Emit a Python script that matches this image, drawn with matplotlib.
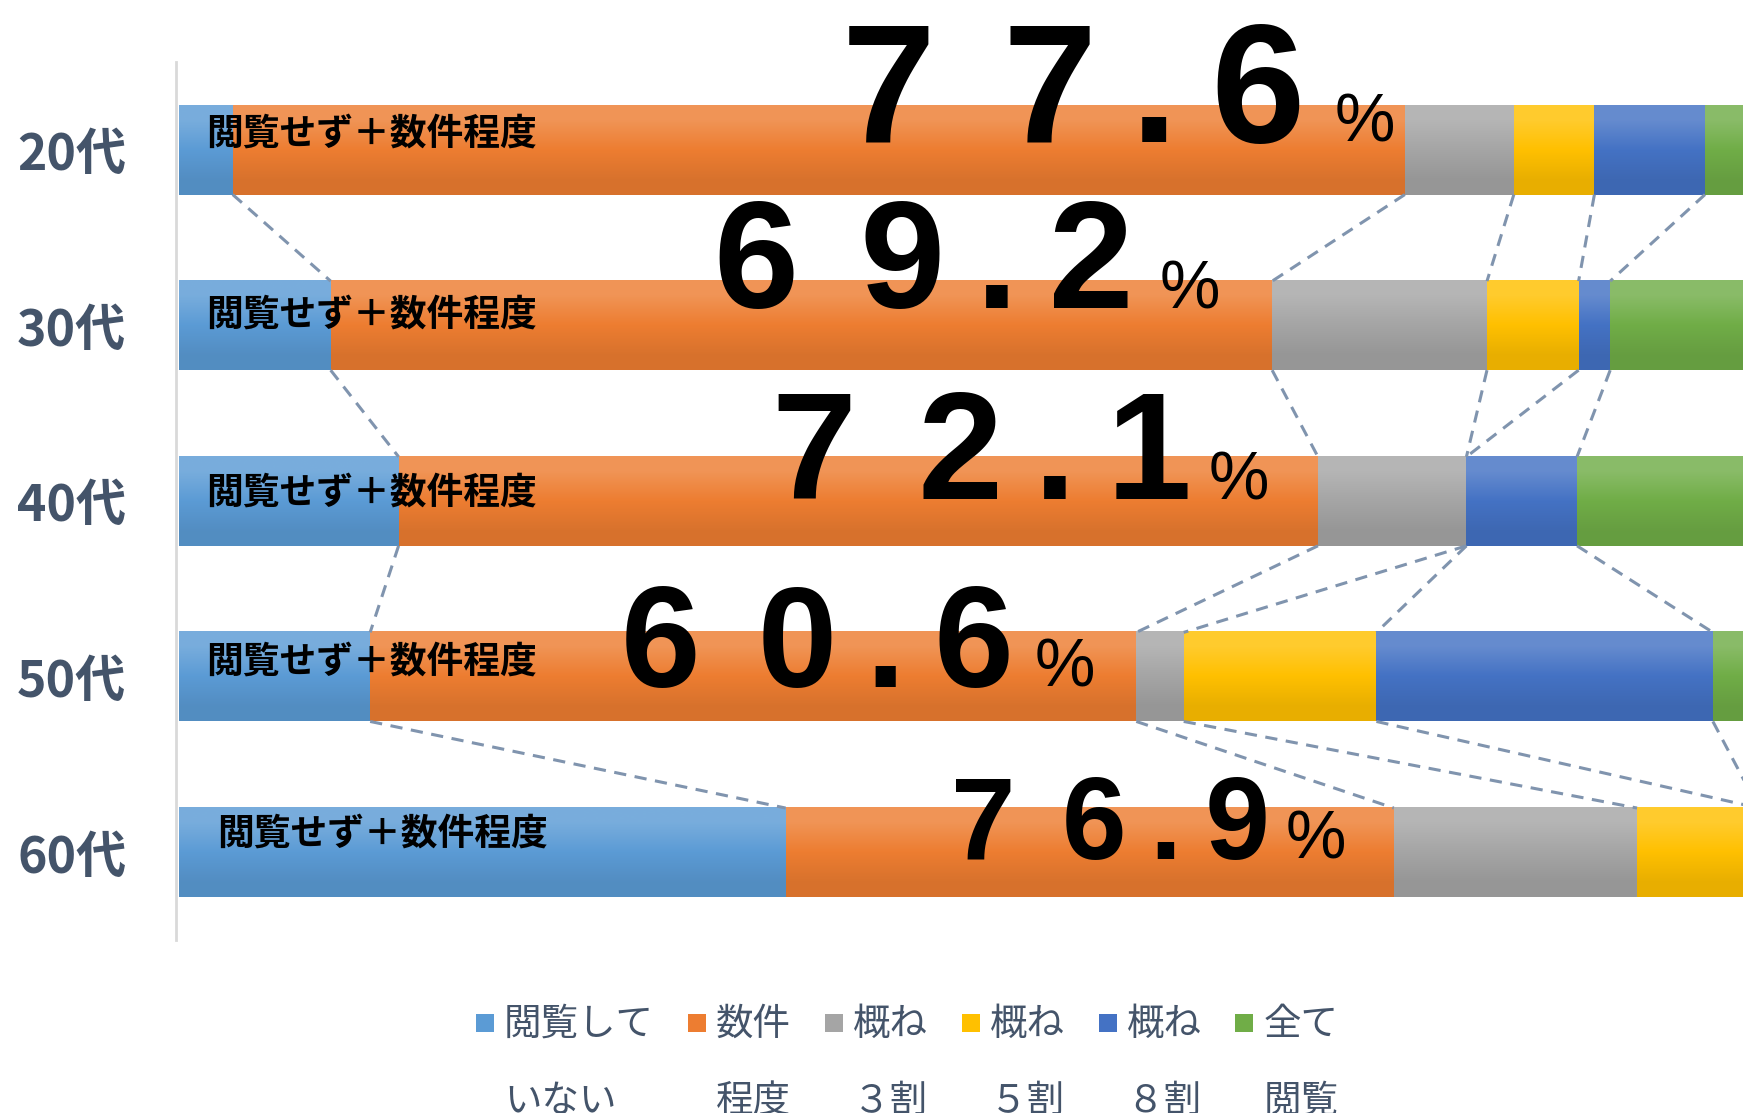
import matplotlib
matplotlib.use('Agg')
import matplotlib.pyplot as plt
import numpy as np
from matplotlib.colors import to_rgb
from matplotlib.patches import Rectangle
from matplotlib.legend_handler import HandlerPatch

plt.rcParams['font.family'] = ['Noto Sans CJK JP', 'DejaVu Sans']

# data (percent of each age group)
ages = ['20代', '30代', '40代', '50代', '60代']
series_labels = ['閲覧して\nいない', '数件\n程度', '概ね\n３割', '概ね\n５割', '概ね\n８割', '全て\n閲覧']
not_read = [3.4, 9.6, 13.9, 12.1, 38.4]
few_items = [74.2, 59.6, 58.2, 48.5, 38.5]
about_30 = [6.9, 13.6, 9.4, 3.0, 15.4]
about_50 = [5.1, 5.8, 0.0, 12.2, 7.7]
about_80 = [7.0, 2.0, 7.0, 21.3, 0.0]
all_read = [3.4, 9.4, 11.5, 2.9, 0.0]
inner_label = '閲覧せず＋数件程度'

colors = ['#5B9BD5', '#ED7D31', '#A5A5A5', '#FFC000', '#4472C4', '#70AD47']
text_col = '#44546A'
bar_h = 0.507

# hand placed annotations (like text boxes on a slide)
inner_x = [1.7, 1.7, 1.7, 1.7, 2.4]
inner_dy = [-0.09, -0.06, -0.045, -0.085, -0.105]
big_x = [56.66, 47.16, 50.85, 40.39, 58.97]
big_dy = [-0.047, -0.1, -0.013, 0.057, 0.036]
big_size = [121.5, 110, 110, 103, 83.5]
pct_x = [73.18, 62.1, 65.2, 54.19, 70.08]

series = [not_read, few_items, about_30, about_50, about_80, all_read]
data = np.array(series)
y = np.arange(len(ages))

fig = plt.figure(figsize=(17.43, 11.13), dpi=100)
ax = fig.add_axes([0.1027, 0.1551, 0.9063, 0.789])
for s in ['top', 'right', 'bottom']:
    ax.spines[s].set_visible(False)
ax.spines['left'].set_position(('outward', 2))
ax.spines['left'].set_color('#D9D9D9')
ax.spines['left'].set_linewidth(2)


def shade(c, t):
    c = np.array(to_rgb(c))
    return c + (1 - c) * t if t > 0 else c * (1 + t)


containers = []
left = np.zeros(len(ages))
for k, vals in enumerate(data):
    bars = ax.barh(y, vals, left=left, height=bar_h, color=colors[k],
                   label=series_labels[k], zorder=1)
    containers.append(bars)
    grad = np.array([shade(colors[k], 0.18), shade(colors[k], 0.0),
                     shade(colors[k], -0.09)])[:, None, :]
    for p in bars:
        if p.get_width() <= 0:
            continue
        x0, y0 = p.get_x(), p.get_y()
        ax.imshow(grad, extent=(x0, x0 + p.get_width(), y0 + p.get_height(), y0),
                  aspect='auto', interpolation='bilinear', zorder=1.5)
    left = left + vals

# dashed connectors between the same boundaries of neighbouring bars
cum = np.cumsum(data, axis=0)
for i in range(len(ages) - 1):
    for k in range(len(series) - 1):
        ax.plot([cum[k, i], cum[k, i + 1]], [i + bar_h / 2, i + 1 - bar_h / 2],
                color='#8094AE', lw=2.2, ls=(0, (4, 2.8)), zorder=2,
                dash_capstyle='butt')


def spaced(v):
    a, b = f'{v:.1f}'.split('.')
    return '\u2009\u2009'.join(a) + '\u2009.\u2009' + b


for i in range(len(ages)):
    ax.text(inner_x[i], i + inner_dy[i], inner_label, fontsize=26.5,
            fontweight='bold', color='black', va='center', ha='left', zorder=5)
    total = round(not_read[i] + few_items[i], 1)
    ax.text(big_x[i], i + big_dy[i], spaced(total),
            family=['Liberation Sans', 'DejaVu Sans'], fontweight='bold',
            fontsize=big_size[i], ha='center', va='baseline', zorder=5)
    ax.text(pct_x[i], i + big_dy[i], '%', family=['Liberation Sans', 'DejaVu Sans'],
            fontsize=49, ha='left', va='baseline', zorder=5)

ax.set_xlim(0, 100)
ax.set_ylim(len(ages) - 0.5, -0.5)
ax.set_xticks([])
ax.tick_params(axis='y', length=0, pad=36, labelsize=36, labelcolor=text_col)
ax.set_yticks(y, ages, fontweight='bold')


def square(legend, orig_handle, xdescent, ydescent, width, height, fontsize):
    return Rectangle((-xdescent, height / 2 - width / 2 - ydescent + 30), width, width)


leg = fig.legend([c.patches[0] for c in containers], series_labels,
                 loc='upper left', bbox_to_anchor=(0.2731, 0.097),
                 ncol=6, frameon=False, fontsize=27, labelcolor=text_col,
                 handler_map={Rectangle: HandlerPatch(patch_func=square)},
                 handlelength=0.48, handletextpad=0.27, columnspacing=0.9,
                 borderpad=0, borderaxespad=0)
for t in leg.get_texts():
    t.set_linespacing(2.25)

fig.savefig('out.png', dpi=100)
